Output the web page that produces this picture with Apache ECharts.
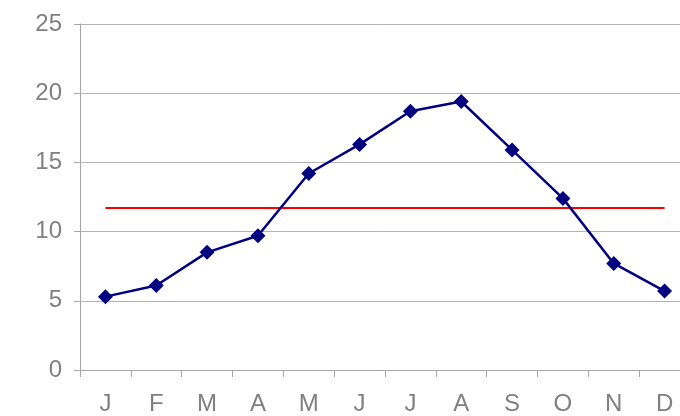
<!DOCTYPE html>
<html>
<head>
<meta charset="utf-8">
<script src="https://cdn.jsdelivr.net/npm/echarts@6/dist/echarts.min.js"></script>
<style>
  html, body { margin: 0; padding: 0; background: #ffffff; }
  #chart { width: 680px; height: 416px; }
</style>
</head>
<body>
<div id="chart"></div>
<script>
// Monthly temperature and the yearly mean
const months = ['J', 'F', 'M', 'A', 'M', 'J', 'J', 'A', 'S', 'O', 'N', 'D'];
const monthlyTemp = [5.3, 6.1, 8.5, 9.7, 14.2, 16.3, 18.7, 19.4, 15.9, 12.4, 7.7, 5.7];
const meanTemp = [11.7, 11.7, 11.7, 11.7, 11.7, 11.7, 11.7, 11.7, 11.7, 11.7, 11.7, 11.7];
const yTicks = { min: 0, max: 25, interval: 5 };

const chart = echarts.init(document.getElementById('chart'), null, { renderer: 'canvas' });

const labelStyle = {
  color: '#808080',
  fontFamily: 'Liberation Sans, Arial, sans-serif',
  fontSize: 24
};

chart.setOption({
  animation: false,
  backgroundColor: '#ffffff',
  // the plot runs a little past the right edge of the canvas
  grid: { left: 80, top: 24, width: 610, height: 346, containLabel: false, outerBoundsMode: 'none' },
  xAxis: {
    type: 'category',
    data: months,
    boundaryGap: true,
    axisLine: { show: true, lineStyle: { color: '#a6a6a6', width: 1 } },
    axisTick: { show: true, length: 7, alignWithLabel: false, lineStyle: { color: '#a6a6a6' } },
    axisLabel: Object.assign({ margin: 22, interval: 0 }, labelStyle),
    splitLine: { show: false }
  },
  yAxis: {
    type: 'value',
    min: yTicks.min,
    max: yTicks.max,
    interval: yTicks.interval,
    axisLine: { show: true, lineStyle: { color: '#a6a6a6', width: 1 } },
    axisTick: { show: true, length: 6, lineStyle: { color: '#a6a6a6' } },
    axisLabel: Object.assign({ margin: 18 }, labelStyle),
    splitLine: { show: true, lineStyle: { color: '#b3b3b3', width: 1 } }
  },
  series: [
    {
      name: 'Mean',
      type: 'line',
      data: meanTemp,
      symbol: 'none',
      lineStyle: { color: '#ff0000', width: 2 },
      z: 2
    },
    {
      name: 'Temperature',
      type: 'line',
      data: monthlyTemp,
      symbol: 'diamond',
      symbolSize: 15,
      itemStyle: { color: '#000080' },
      lineStyle: { color: '#000080', width: 2.5 },
      z: 3
    }
  ]
});
</script>
</body>
</html>
